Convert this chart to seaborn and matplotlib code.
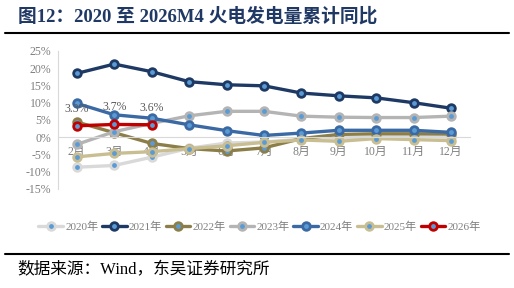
import numpy as np
import pandas as pd
import seaborn as sns
from matplotlib import pyplot as plt

months = ['2月', '3月', '4月', '5月', '6月', '7月', '8月', '9月', '10月', '11月', '12月']

y2020 = [-8.7, -8.2, -5.8, -3.2, -1.7, -1.4, -0.6, -0.2, 0.1, 0.2, 0.0]
y2021 = [18.5, 21.2, 19.0, 16.1, 15.2, 14.9, 12.8, 12.0, 11.4, 10.0, 8.4]
y2022 = [4.4, 1.3, -1.8, -3.3, -4.0, -3.1, -0.4, 0.8, 1.0, 1.0, 0.9]
y2023 = [-2.1, 1.6, 4.0, 6.2, 7.5, 7.5, 6.1, 5.8, 5.7, 5.7, 6.1]
y2024 = [9.8, 6.5, 5.5, 3.6, 1.9, 0.5, 1.2, 2.0, 2.0, 2.0, 1.4]
y2025 = [-5.7, -4.7, -4.2, -3.3, -2.5, -1.5, -0.8, -1.2, -0.4, -0.7, -1.0]
y2026 = [3.3, 3.7, 3.6]

series = {
    '2020年': (y2020, '#D9D9D9'),
    '2021年': (y2021, '#1E3A64'),
    '2022年': (y2022, '#8C7E48'),
    '2023年': (y2023, '#B4B4B4'),
    '2024年': (y2024, '#3A69A3'),
    '2025年': (y2025, '#C9BE91'),
    '2026年': (y2026, '#C00000'),
}

sns.set_style('white')
plt.rcParams['font.family'] = ['Liberation Serif', 'Noto Sans CJK SC']
plt.rcParams['axes.unicode_minus'] = False

fig = plt.figure(figsize=(5.14, 2.88), dpi=100)
ax = fig.add_axes([0.113, 0.344, 0.801, 0.479])

for name, (vals, col) in series.items():
    df = pd.DataFrame({'x': np.arange(len(vals)), 'y': vals})
    sns.lineplot(data=df, x='x', y='y', ax=ax, color=col, linewidth=2.4,
                 marker='o', markersize=5.5, markeredgewidth=2,
                 markeredgecolor=col, markerfacecolor='#5B9BD5', label=name)

# data labels for 2026
for i, v in enumerate(y2026):
    ax.annotate(f'{v:.1f}%', (i, v), xytext=(0, 8), textcoords='offset points',
                ha='center', va='bottom', fontsize=8.5, color='#595959')

ax.set_xlim(-0.5, 10.5)
ax.set_ylim(-15, 25)
ax.set_yticks(np.arange(-15, 26, 5))
ax.set_yticklabels([f'{t}%' for t in range(-15, 26, 5)])
ax.set_xticks(np.arange(len(months)))
ax.set_xticklabels(months)
ax.set_xticks(np.arange(-0.5, 11, 1), minor=True)
ax.set_xlabel('')
ax.set_ylabel('')

ax.spines['bottom'].set_position(('data', 0))
for s in ['top', 'right']:
    ax.spines[s].set_visible(False)
ax.spines['bottom'].set_color('#D9D9D9')
ax.spines['left'].set_color('#D9D9D9')
ax.tick_params(axis='x', which='major', length=0, labelsize=8.5, labelcolor='#7F7F7F', pad=6)
ax.tick_params(axis='x', which='minor', length=3, color='#D9D9D9', direction='out')
ax.tick_params(axis='y', length=3, color='#D9D9D9', labelsize=8.5, labelcolor='#7F7F7F', pad=2)

ax.get_legend().remove()
handles, labels = ax.get_legend_handles_labels()
fig.legend(handles, labels, loc='center', bbox_to_anchor=(0.505, 0.212), ncol=7,
           frameon=False, fontsize=8, labelcolor='#7F7F7F', handlelength=2.2,
           handletextpad=0.2, columnspacing=0.35)

fig.text(0.035, 0.945, '图12：2020 至 2026M4 火电发电量累计同比', fontsize=13.5,
         fontweight='bold', color='#1F3864', ha='left', va='center')
fig.add_artist(plt.Line2D([0.01, 0.99], [0.885, 0.885], color='black', linewidth=1.5))
fig.add_artist(plt.Line2D([0.01, 0.99], [0.118, 0.118], color='black', linewidth=1.5))
fig.text(0.033, 0.06, '数据来源：Wind，东吴证券研究所', fontsize=12, color='black',
         ha='left', va='center')

fig.savefig('out.png', dpi=100)
